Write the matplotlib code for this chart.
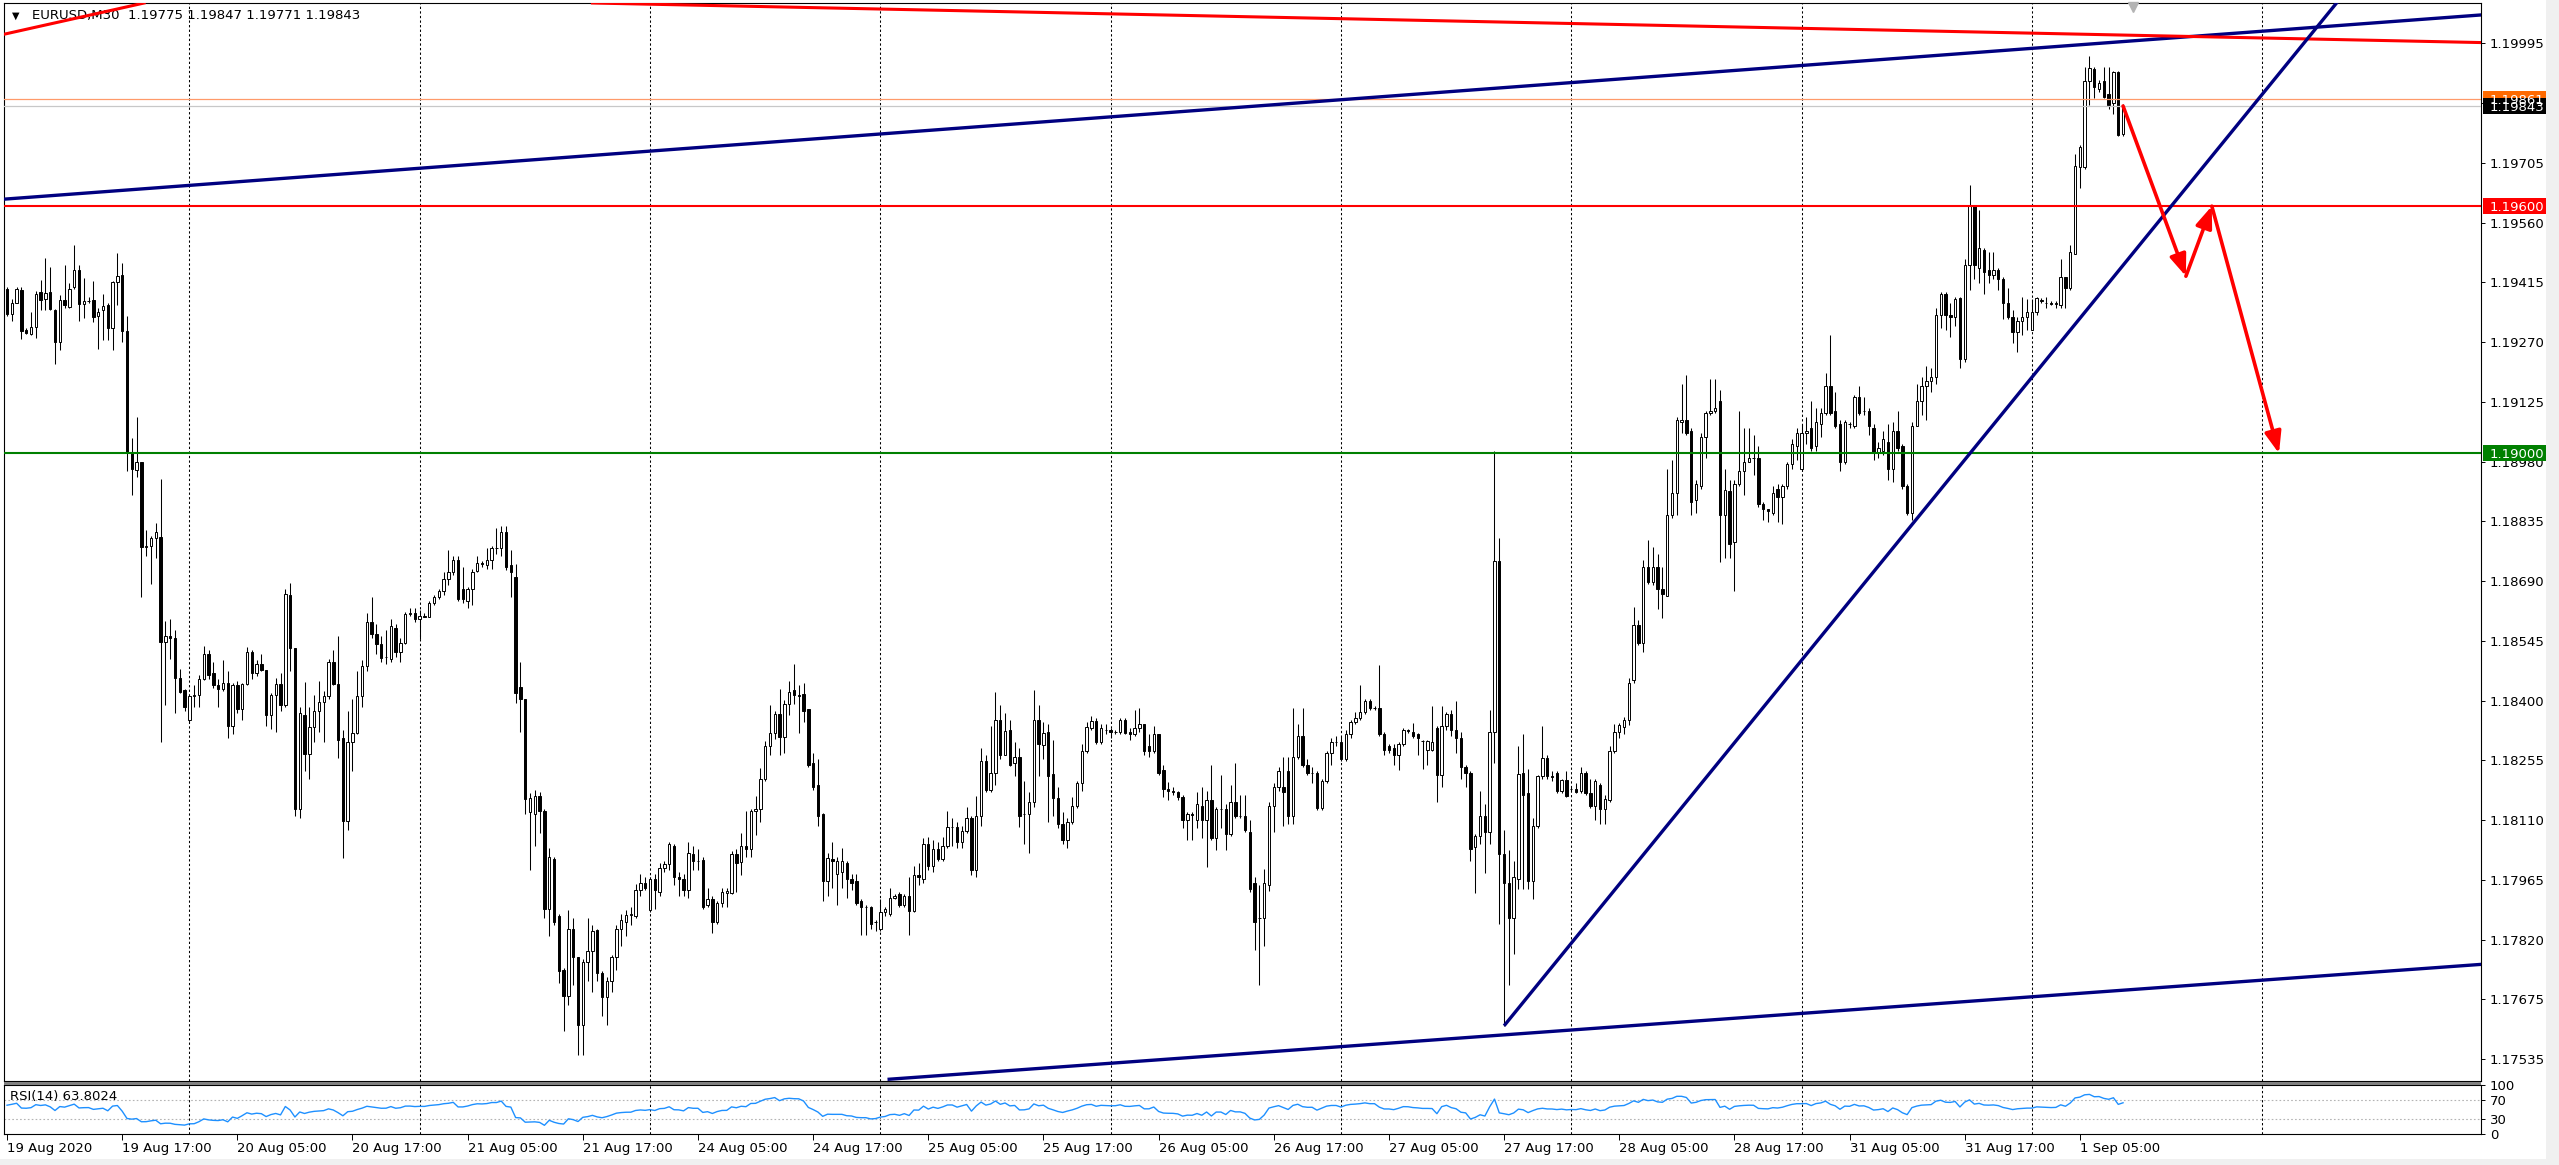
import numpy as np
import pandas as pd
import matplotlib
matplotlib.use("Agg")
import matplotlib.pyplot as plt
import matplotlib.transforms as mtransforms
from matplotlib.patches import Rectangle, FancyArrowPatch

plt.rcParams['font.family'] = ['DejaVu Sans', 'Liberation Sans']

# EURUSD M30 candles in points (1 point = 0.00001), bar 0 = 19 Aug 2020 05:00
opens = [
    119398, 119339, 119366, 119396, 119299, 119290, 119307, 119392, 119374, 119392,
    119349, 119270, 119372, 119356, 119403, 119446, 119362, 119369, 119372, 119334,
    119347, 119359, 119304, 119415, 119433, 119297, 119002, 118960, 118980, 118773,
    118775, 118795, 118798, 118542, 118557, 118552, 118455, 118425, 118354, 118411,
    118413, 118453, 118512, 118468, 118438, 118428, 118443, 118339, 118438, 118379,
    118441, 118517, 118468, 118490, 118475, 118364, 118413, 118441, 118389, 118656,
    118527, 118138, 118366, 118270, 118336, 118376, 118396, 118411, 118495, 118441,
    118309, 118109, 118299, 118322, 118411, 118485, 118592, 118562, 118537, 118507,
    118502, 118577, 118517, 118540, 118611, 118613, 118599, 118606, 118604, 118636,
    118651, 118666, 118694, 118711, 118742, 118671, 118641, 118671, 118715, 118735,
    118730, 118742, 118770, 118770, 118809, 118730, 118700, 118433, 118403, 118130,
    118124, 118169, 118133, 117895, 118016, 117877, 117747, 117684, 117846, 117778,
    117612, 117765, 117792, 117844, 117738, 117680, 117720, 117778, 117846, 117864,
    117880, 117877, 117940, 117958, 117891, 117967, 117936, 117994, 118003, 118048,
    117971, 117967, 117940, 118027, 118012, 118014, 117904, 117918, 117864, 117909,
    117933, 117934, 118027, 118009, 118048, 118039, 118133, 118137, 118209, 118290,
    118321, 118368, 118312, 118393, 118425, 118413, 118416, 118380, 118248, 118196,
    118124, 117963, 118016, 117980, 117985, 118007, 117967, 117962, 117913, 117900,
    117900, 117864, 117846, 117886, 117882, 117922, 117931, 117904, 117925, 117889,
    117976, 117967, 118052, 117998, 118039, 118016, 118048, 118093, 118093, 118057,
    118084, 118115, 117989, 118120, 118254, 118182, 118225, 118353, 118268, 118329,
    118248, 118263, 118124, 118124, 118155, 118353, 118292, 118323, 118223, 118164,
    118100, 118061, 118106, 118145, 118200, 118279, 118333, 118350, 118299, 118329,
    118329, 118323, 118323, 118353, 118324, 118319, 118333, 118343, 118289, 118279,
    118318, 118232, 118185, 118180, 118178, 118165, 118111, 118126, 118111, 118145,
    118111, 118160, 118066, 118136, 118136, 118076, 118155, 118121, 118121, 118081,
    117957, 117873, 117873, 117952, 118145, 118190, 118190, 118230, 118121, 118264,
    118314, 118244, 118225, 118225, 118140, 118205, 118274, 118299, 118299, 118259,
    118319, 118348, 118358, 118373, 118398, 118383, 118383, 118319, 118289, 118284,
    118267, 118294, 118329, 118324, 118319, 118301, 118281, 118281, 118334, 118220,
    118339, 118368, 118329, 118309, 118240, 118225, 118046, 118071, 118121, 118081,
    118324, 118739, 118027, 117957, 117873, 117967, 118225, 118175, 117962, 118096,
    118217, 118261, 118218, 118225, 118180, 118208, 118185, 118185, 118180, 118225,
    118175, 118145, 118195, 118136, 118160, 118277, 118324, 118335, 118352, 118449,
    118584, 118541, 118725, 118687, 118725, 118671, 118655, 118850, 118904, 119077,
    119082, 119055, 118887, 118920, 119039, 119099, 119104, 119126, 118850, 118909,
    118785, 118925, 118958, 118979, 118990, 118990, 118877, 118866, 118855, 118914,
    118893, 118920, 118974, 119017, 118963, 119050, 119061, 119017, 119072, 119099,
    119164, 119104, 119072, 118979, 119072, 119066, 119137, 119104, 119104, 119061,
    119001, 119007, 119028, 118963, 119055, 119017, 118920, 118855, 119066, 119126,
    119164, 119175, 119185, 119337, 119386, 119337, 119332, 119377, 119229, 119456,
    119600, 119451, 119494, 119445, 119434, 119445, 119424, 119364, 119332, 119294,
    119321, 119332, 119299, 119342, 119369, 119364, 119364, 119362, 119359, 119427,
    119402, 119485, 119694, 119694, 119903, 119933, 119884, 119903, 119871, 119851,
    119925, 119775,
]
highs = [
    119403, 119374, 119403, 119403, 119305, 119344, 119393, 119421, 119473, 119453,
    119351, 119384, 119456, 119413, 119505, 119456, 119426, 119379, 119418, 119354,
    119387, 119364, 119418, 119486, 119463, 119334, 119037, 119089, 118980, 118814,
    118800, 118831, 118938, 118594, 118597, 118572, 118478, 118428, 118413, 118438,
    118463, 118532, 118522, 118493, 118453, 118498, 118473, 118443, 118448, 118443,
    118530, 118522, 118498, 118512, 118475, 118418, 118455, 118468, 118671, 118686,
    118527, 118384, 118445, 118384, 118413, 118448, 118423, 118502, 118522, 118557,
    118329, 118374, 118403, 118473, 118498, 118613, 118651, 118587, 118557, 118572,
    118597, 118587, 118552, 118616, 118626, 118626, 118621, 118613, 118641, 118656,
    118671, 118711, 118765, 118750, 118750, 118725, 118676, 118720, 118750, 118740,
    118770, 118775, 118819, 118824, 118824, 118765, 118732, 118493, 118403, 118175,
    118182, 118178, 118137, 118043, 118021, 117882, 117751, 117892, 117873, 117778,
    117774, 117873, 117855, 117846, 117743, 117729, 117783, 117855, 117882, 117891,
    117900, 117954, 117980, 117971, 117971, 117980, 118007, 118012, 118057, 118052,
    117985, 117980, 118057, 118048, 118039, 118021, 117945, 117927, 117913, 117945,
    117945, 118034, 118039, 118079, 118133, 118137, 118169, 118236, 118303, 118389,
    118375, 118429, 118402, 118447, 118488, 118438, 118443, 118380, 118272, 118259,
    118128, 118030, 118057, 118021, 118043, 118012, 117980, 117980, 117918, 117904,
    117902, 117868, 117918, 117900, 117945, 117931, 117936, 117931, 117971, 117998,
    118007, 118066, 118070, 118061, 118057, 118070, 118133, 118115, 118106, 118097,
    118142, 118119, 118169, 118286, 118268, 118339, 118420, 118389, 118371, 118353,
    118299, 118286, 118205, 118178, 118425, 118389, 118348, 118344, 118304, 118191,
    118130, 118116, 118165, 118205, 118294, 118348, 118362, 118358, 118343, 118343,
    118333, 118329, 118358, 118358, 118333, 118378, 118383, 118343, 118319, 118338,
    118319, 118244, 118202, 118190, 118180, 118170, 118131, 118129, 118178, 118190,
    118180, 118244, 118141, 118220, 118150, 118195, 118249, 118170, 118170, 118111,
    117972, 117952, 117992, 118155, 118200, 118239, 118264, 118264, 118383, 118343,
    118383, 118259, 118240, 118230, 118210, 118279, 118309, 118314, 118314, 118329,
    118353, 118373, 118437, 118403, 118403, 118388, 118487, 118324, 118294, 118294,
    118299, 118334, 118332, 118346, 118321, 118304, 118304, 118388, 118339, 118388,
    118373, 118378, 118398, 118324, 118245, 118230, 118076, 118180, 118150, 118378,
    119007, 118794, 118086, 118037, 118012, 118289, 118319, 118235, 118116, 118220,
    118339, 118269, 118230, 118230, 118210, 118230, 118190, 118200, 118240, 118230,
    118210, 118210, 118200, 118170, 118289, 118343, 118346, 118360, 118454, 118627,
    118595, 118741, 118790, 118774, 118757, 118725, 118963, 118985, 119088, 119169,
    119191, 119061, 118936, 119050, 119104, 119180, 119180, 119153, 118963, 118936,
    118936, 119104, 119061, 119061, 119045, 119017, 118882, 118866, 118920, 118925,
    118925, 118979, 119034, 119061, 119072, 119088, 119126, 119110, 119110, 119196,
    119288, 119148, 119082, 119082, 119077, 119142, 119164, 119137, 119110, 119072,
    119028, 119055, 119072, 119077, 119104, 119023, 118925, 119077, 119169, 119185,
    119212, 119207, 119353, 119391, 119391, 119364, 119380, 119380, 119472, 119651,
    119603, 119591, 119499, 119489, 119489, 119451, 119429, 119402, 119348, 119332,
    119380, 119375, 119375, 119380, 119377, 119380, 119369, 119369, 119472, 119429,
    119505, 119727, 119749, 119938, 119965, 119938, 119905, 119938, 119938, 119927,
    119927, 119847,
]
lows = [
    119334, 119322, 119364, 119277, 119290, 119287, 119280, 119349, 119347, 119349,
    119218, 119252, 119354, 119354, 119398, 119322, 119329, 119364, 119319, 119253,
    119275, 119275, 119250, 119359, 119270, 118958, 118898, 118943, 118651, 118750,
    118683, 118745, 118300, 118389, 118502, 118369, 118418, 118374, 118349, 118384,
    118384, 118450, 118453, 118431, 118384, 118423, 118309, 118319, 118369, 118354,
    118438, 118453, 118461, 118473, 118339, 118332, 118324, 118374, 118384, 118473,
    118121, 118116, 118230, 118210, 118300, 118324, 118300, 118403, 118438, 118260,
    118017, 118087, 118230, 118319, 118384, 118473, 118552, 118512, 118493, 118488,
    118493, 118507, 118493, 118537, 118606, 118592, 118549, 118603, 118603, 118631,
    118646, 118656, 118681, 118706, 118641, 118636, 118626, 118631, 118711, 118725,
    118720, 118720, 118755, 118750, 118718, 118651, 118394, 118324, 118126, 117989,
    118048, 118079, 117873, 117828, 117855, 117716, 117599, 117662, 117711, 117541,
    117541, 117720, 117693, 117720, 117635, 117612, 117693, 117747, 117805, 117828,
    117855, 117873, 117927, 117940, 117886, 117895, 117927, 117985, 117989, 117953,
    117927, 117927, 117922, 117989, 117989, 117895, 117900, 117837, 117859, 117900,
    117900, 117931, 117936, 117976, 118021, 118021, 118075, 118106, 118205, 118268,
    118308, 118268, 118272, 118366, 118393, 118321, 118348, 118240, 118182, 118097,
    117913, 117927, 117945, 117904, 117945, 117922, 117940, 117904, 117832, 117832,
    117846, 117841, 117841, 117877, 117877, 117918, 117900, 117900, 117832, 117886,
    117953, 117958, 117989, 117985, 118012, 118012, 118043, 118048, 118043, 118043,
    118079, 117976, 117971, 118097, 118178, 118178, 118196, 118259, 118268, 118241,
    118218, 118093, 118052, 118030, 118142, 118218, 118259, 118106, 118120, 118090,
    118051, 118042, 118101, 118140, 118180, 118274, 118329, 118294, 118294, 118319,
    118309, 118319, 118319, 118319, 118304, 118314, 118324, 118269, 118264, 118274,
    118220, 118165, 118160, 118170, 118160, 118091, 118061, 118061, 118091, 118066,
    117997, 118061, 118037, 118091, 118037, 118071, 118116, 118116, 118081, 117935,
    117794, 117710, 117804, 117938, 118081, 118180, 118096, 118101, 118101, 118259,
    118239, 118220, 118200, 118135, 118135, 118200, 118244, 118289, 118254, 118254,
    118309, 118343, 118353, 118368, 118378, 118378, 118314, 118269, 118274, 118244,
    118232, 118289, 118321, 118309, 118269, 118235, 118244, 118279, 118155, 118190,
    118329, 118314, 118274, 118210, 118190, 118012, 117933, 118051, 117982, 118051,
    118249, 117858, 117611, 117710, 117784, 117942, 117942, 117942, 117918, 118091,
    118210, 118210, 118205, 118175, 118175, 118165, 118180, 118175, 118175, 118170,
    118140, 118111, 118101, 118101, 118155, 118274, 118310, 118320, 118340, 118443,
    118535, 118519, 118682, 118680, 118622, 118600, 118655, 118844, 118850, 119050,
    119045, 118850, 118855, 118914, 118990, 119093, 119099, 118736, 118747, 118747,
    118665, 118920, 118898, 118979, 118947, 118871, 118839, 118833, 118850, 118833,
    118828, 118914, 118963, 118985, 118958, 119023, 119007, 119007, 119039, 119093,
    119093, 119061, 118958, 118974, 119061, 119061, 119093, 119093, 119045, 118985,
    118990, 118996, 118936, 118931, 119007, 118914, 118850, 118839, 119066, 119093,
    119082, 119148, 119169, 119305, 119300, 119283, 119310, 119207, 119223, 119396,
    119424, 119413, 119386, 119413, 119424, 119397, 119326, 119326, 119267, 119245,
    119288, 119299, 119299, 119337, 119364, 119353, 119359, 119353, 119353, 119353,
    119396, 119483, 119645, 119689, 119846, 119862, 119878, 119862, 119835, 119824,
    119770, 119771,
]
closes = [
    119339, 119366, 119398, 119297, 119293, 119307, 119388, 119372, 119389, 119351,
    119270, 119372, 119359, 119400, 119446, 119362, 119369, 119371, 119332, 119344,
    119357, 119304, 119415, 119431, 119297, 119002, 118963, 118978, 118773, 118775,
    118795, 118809, 118542, 118557, 118552, 118455, 118421, 118384, 118411, 118413,
    118453, 118512, 118463, 118438, 118428, 118443, 118339, 118438, 118379, 118441,
    118517, 118468, 118490, 118475, 118364, 118413, 118441, 118389, 118658, 118527,
    118138, 118369, 118270, 118336, 118376, 118396, 118411, 118495, 118441, 118304,
    118109, 118299, 118322, 118411, 118485, 118592, 118562, 118537, 118504, 118507,
    118582, 118517, 118540, 118611, 118613, 118597, 118606, 118604, 118636, 118651,
    118666, 118696, 118711, 118742, 118646, 118646, 118671, 118711, 118735, 118732,
    118742, 118770, 118770, 118809, 118725, 118712, 118418, 118403, 118161, 118164,
    118169, 118133, 117895, 118021, 117864, 117743, 117684, 117846, 117778, 117612,
    117765, 117792, 117841, 117738, 117680, 117720, 117778, 117846, 117868, 117880,
    117882, 117940, 117958, 117945, 117967, 117940, 117994, 118003, 118052, 117971,
    117967, 117940, 118030, 118012, 118012, 117900, 117918, 117864, 117909, 117936,
    117938, 118027, 118007, 118048, 118039, 118133, 118137, 118209, 118290, 118321,
    118368, 118312, 118393, 118420, 118413, 118411, 118375, 118245, 118191, 118120,
    117963, 118018, 118012, 118012, 118012, 117967, 117958, 117909, 117900, 117900,
    117859, 117864, 117886, 117895, 117922, 117927, 117904, 117927, 117889, 117976,
    117973, 118052, 117998, 118039, 118016, 118048, 118093, 118093, 118057, 118084,
    118115, 117989, 118120, 118254, 118182, 118225, 118353, 118268, 118326, 118245,
    118263, 118120, 118124, 118155, 118353, 118295, 118321, 118218, 118164, 118100,
    118061, 118106, 118145, 118200, 118279, 118337, 118350, 118299, 118334, 118329,
    118323, 118325, 118353, 118321, 118319, 118333, 118343, 118279, 118279, 118318,
    118225, 118185, 118180, 118178, 118165, 118111, 118126, 118123, 118148, 118111,
    118160, 118066, 118136, 118136, 118076, 118155, 118121, 118121, 118086, 117942,
    117863, 117873, 117957, 118145, 118190, 118230, 118178, 118121, 118264, 118314,
    118244, 118225, 118225, 118140, 118205, 118274, 118299, 118299, 118259, 118319,
    118348, 118358, 118373, 118398, 118383, 118383, 118319, 118281, 118281, 118267,
    118294, 118329, 118327, 118314, 118309, 118301, 118301, 118299, 118220, 118339,
    118368, 118329, 118309, 118240, 118225, 118041, 118071, 118121, 118081, 118324,
    118739, 118027, 117957, 117873, 117972, 118222, 118172, 117962, 118096, 118217,
    118261, 118218, 118215, 118180, 118208, 118168, 118185, 118178, 118225, 118175,
    118145, 118205, 118136, 118162, 118277, 118324, 118340, 118352, 118443, 118584,
    118541, 118725, 118687, 118725, 118671, 118660, 118850, 118904, 119082, 119082,
    119050, 118882, 118925, 119039, 119099, 119104, 119110, 118850, 118910, 118779,
    118925, 118958, 118979, 118990, 118988, 118877, 118866, 118860, 118904, 118893,
    118920, 118974, 119023, 119050, 119050, 119055, 119012, 119077, 119099, 119164,
    119099, 119066, 118979, 119077, 119072, 119137, 119099, 119104, 119066, 119001,
    119012, 119034, 118963, 119055, 119012, 118920, 118855, 119066, 119126, 119164,
    119175, 119185, 119337, 119386, 119337, 119332, 119375, 119229, 119456, 119600,
    119456, 119499, 119440, 119434, 119445, 119424, 119364, 119332, 119294, 119321,
    119332, 119342, 119342, 119377, 119372, 119366, 119362, 119366, 119427, 119402,
    119489, 119698, 119743, 119903, 119936, 119889, 119900, 119864, 119846, 119925,
    119773, 119843,
]

# time scale: one label every 24 bars
time_label_bars = [0, 24, 48, 72, 96, 120, 144, 168, 192, 216, 240, 264, 288, 312,
                   336, 360, 384, 408, 432]
time_labels = ["19 Aug 2020", "19 Aug 17:00", "20 Aug 05:00", "20 Aug 17:00",
               "21 Aug 05:00", "21 Aug 17:00", "24 Aug 05:00", "24 Aug 17:00",
               "25 Aug 05:00", "25 Aug 17:00", "26 Aug 05:00", "26 Aug 17:00",
               "27 Aug 05:00", "27 Aug 17:00", "28 Aug 05:00", "28 Aug 17:00",
               "31 Aug 05:00", "31 Aug 17:00", "1 Sep 05:00"]
day_bars = [38, 86, 134, 182, 230, 278, 326, 374, 422, 470]

price_ticks = [1.19995, 1.19850, 1.19705, 1.19560, 1.19415, 1.19270, 1.19125,
               1.18980, 1.18835, 1.18690, 1.18545, 1.18400, 1.18255, 1.18110,
               1.17965, 1.17820, 1.17675, 1.17530]
price_tick_labels = ["1.19995", "1.19850", "1.19705", "1.19560", "1.19415",
                     "1.19270", "1.19125", "1.18980", "1.18835", "1.18690",
                     "1.18545", "1.18400", "1.18255", "1.18110", "1.17965",
                     "1.17820", "1.17675", "1.17535"]

# chart objects
level_red = 1.19600
level_green = 1.19000
ask_price = 1.19861
bid_price = 1.19843
channel_upper = [(-0.6, 1.19617), (515.6, 1.20064)]
channel_lower = [(183.5, 1.17481), (515.6, 1.17760)]
support_ray = [(312.0, 1.17611), (474.1, 1.19930)]
red_top = [(126.1, 1.20092), (515.6, 1.19997)]
red_left = [(-1.46, 1.20015), (31.27, 1.20100)]
forecast = [(441.0, 1.19843), (454.1, 1.19430), (459.5, 1.19600), (473.5, 1.19000)]

title = "EURUSD,M30  1.19775 1.19847 1.19771 1.19843"
rsi_label = "RSI(14) 63.8024"

W, H, DPI = 2559, 1165, 100
XMIN, XMAX = -0.63, 515.6
YMIN, YMAX = 1.17477, 1.20093
FS = 9.5


def box(l, t, r, b):
    return [l / W, 1 - b / H, (r - l) / W, (b - t) / H]


def ray(a, pts, **kw):
    # MT4-style ray: starts at the first anchor and runs off to the right
    (x1, y1), (x2, y2) = pts
    xe = XMAX + 5
    a.plot([x1, xe], [y1, y1 + (y2 - y1) * (xe - x1) / (x2 - x1)],
           solid_capstyle='butt', **kw)


fig = plt.figure(figsize=(W / DPI, H / DPI), dpi=DPI, facecolor='white')
ax = fig.add_axes(box(4, 3, 2481, 1081))
axr = fig.add_axes(box(4, 1085, 2481, 1134))

o = np.array(opens) / 1e5
h = np.array(highs) / 1e5
l = np.array(lows) / 1e5
c = np.array(closes) / 1e5
x = np.arange(len(o))
up = c >= o

# grid at day boundaries
for b in day_bars:
    for a in (ax, axr):
        a.axvline(b, color='black', lw=0.75, ls=(0, (2.2, 2.2)), zorder=1)

# candles
ax.vlines(x, l, h, color='black', lw=0.75, zorder=2)
body_bottom = np.minimum(o, c)
body_h = np.abs(c - o)
ax.bar(x[up], body_h[up], bottom=body_bottom[up], width=0.5,
       facecolor='white', edgecolor='black', lw=0.7, zorder=3)
ax.bar(x[~up], body_h[~up], bottom=body_bottom[~up], width=0.5,
       facecolor='black', edgecolor='black', lw=0.7, zorder=3)

# horizontal levels
ax.axhline(ask_price, color='#FF9A6A', lw=0.9, zorder=4)
ax.axhline(bid_price, color='#C8C8C8', lw=0.9, zorder=4)
ax.axhline(level_red, color='#FF0000', lw=1.5, zorder=4)
ax.axhline(level_green, color='#008000', lw=1.5, zorder=4)

# trend lines
ax.axline(*channel_upper, color='#000080', lw=2.4, zorder=4)
ray(ax, channel_lower, color='#000080', lw=2.4, zorder=4)
ax.axline(*red_top, color='#FF0000', lw=2.2, zorder=4)
ax.axline(*red_left, color='#FF0000', lw=2.2, zorder=4)
ray(ax, support_ray, color='#000080', lw=2.4, zorder=4)

# forecast arrows
for p, q in zip(forecast[:-1], forecast[1:]):
    ax.add_patch(FancyArrowPatch(p, q, arrowstyle='-|>,head_length=13,head_width=5',
                                 mutation_scale=1, color='#FF0000', lw=2.6,
                                 shrinkA=0, shrinkB=0, zorder=5))

ax.set_xlim(XMIN, XMAX)
ax.set_ylim(YMIN, YMAX)
ax.yaxis.tick_right()
ax.set_yticks(price_ticks)
ax.set_yticklabels(price_tick_labels)
ax.tick_params(axis='y', length=3, width=0.7, pad=3.5, labelsize=FS, colors='black')
ax.tick_params(axis='x', bottom=False, labelbottom=False)
for s in ax.spines.values():
    s.set_linewidth(0.8)

# price tags on the right scale
tag_trans = mtransforms.blended_transform_factory(ax.transAxes, ax.transData)
px_per_price = 1078 / (YMAX - YMIN)
tag_h = 16 / px_per_price


def price_tag(price, face):
    ax.add_patch(Rectangle((1 + 2 / 2477, price - tag_h / 2), 68 / 2477, tag_h,
                           transform=tag_trans, facecolor=face, edgecolor='none',
                           clip_on=False, zorder=8))
    ax.text(1 + 9 / 2477, price, f"{price:.5f}", transform=tag_trans, color='white',
            ha='left', va='center_baseline', fontsize=FS, clip_on=False, zorder=9)


price_tag(ask_price, '#FF6A00')
price_tag(bid_price, 'black')
price_tag(level_red, '#FF0000')
price_tag(level_green, '#008000')

# header and chart-shift marker
ax.text(8 / 2477, 1 - 13 / 1078, '\u25bc', transform=ax.transAxes, fontsize=7,
        ha='left', va='center', zorder=3)
ax.text(28 / 2477, 1 - 13 / 1078, title, transform=ax.transAxes, fontsize=FS,
        ha='left', va='center', zorder=3)
ax.plot([443], [YMAX - 4 / px_per_price], marker='v', ms=7, color='#B4B4B4',
        clip_on=False, zorder=6)

# RSI(14), Wilder smoothing
delta = np.diff(c)
gain = np.clip(delta, 0, None)
loss = np.clip(-delta, 0, None)
ag, al = gain[:14].mean(), loss[:14].mean()
rsi = np.empty(len(c))
rsi[0] = 100 - 100 / (1 + ag / al)
for i in range(1, len(c)):
    ag = (ag * 13 + gain[i - 1]) / 14
    al = (al * 13 + loss[i - 1]) / 14
    rsi[i] = 100.0 if al == 0 else 100 - 100 / (1 + ag / al)

axr.axhline(70, color='#B4B4B4', lw=0.8, ls=(0, (1.5, 2)), zorder=1)
axr.axhline(30, color='#B4B4B4', lw=0.8, ls=(0, (1.5, 2)), zorder=1)
axr.plot(x, rsi, color='#1E90FF', lw=1.0, zorder=3)
axr.set_xlim(XMIN, XMAX)
axr.set_ylim(0, 100)
axr.yaxis.tick_right()
axr.set_yticks([0, 30, 70, 100])
axr.set_yticklabels(['0', '30', '70', '100'])
axr.set_xticks(time_label_bars)
axr.set_xticklabels(time_labels, ha='left')
axr.tick_params(axis='y', length=3, width=0.7, pad=3.5, labelsize=FS)
axr.tick_params(axis='x', length=4, width=0.7, pad=2, labelsize=FS)
for s in axr.spines.values():
    s.set_linewidth(0.8)
axr.text(6 / 2477, 0.9, rsi_label, transform=axr.transAxes, fontsize=FS,
         ha='left', va='top')

# panel separator and window borders
fig.add_artist(Rectangle((4 / W, 1 - 1084.5 / H), 2477 / W, 3 / H,
                         transform=fig.transFigure, facecolor='#808080', edgecolor='none'))
fig.add_artist(Rectangle((2546 / W, 0), 13 / W, 1, transform=fig.transFigure,
                         facecolor='#F0F0F0', edgecolor='none'))
fig.add_artist(Rectangle((0, 0), 1, 6 / H, transform=fig.transFigure,
                         facecolor='#F0F0F0', edgecolor='none'))

fig.savefig('out.png', dpi=DPI)
plt.close('all')
